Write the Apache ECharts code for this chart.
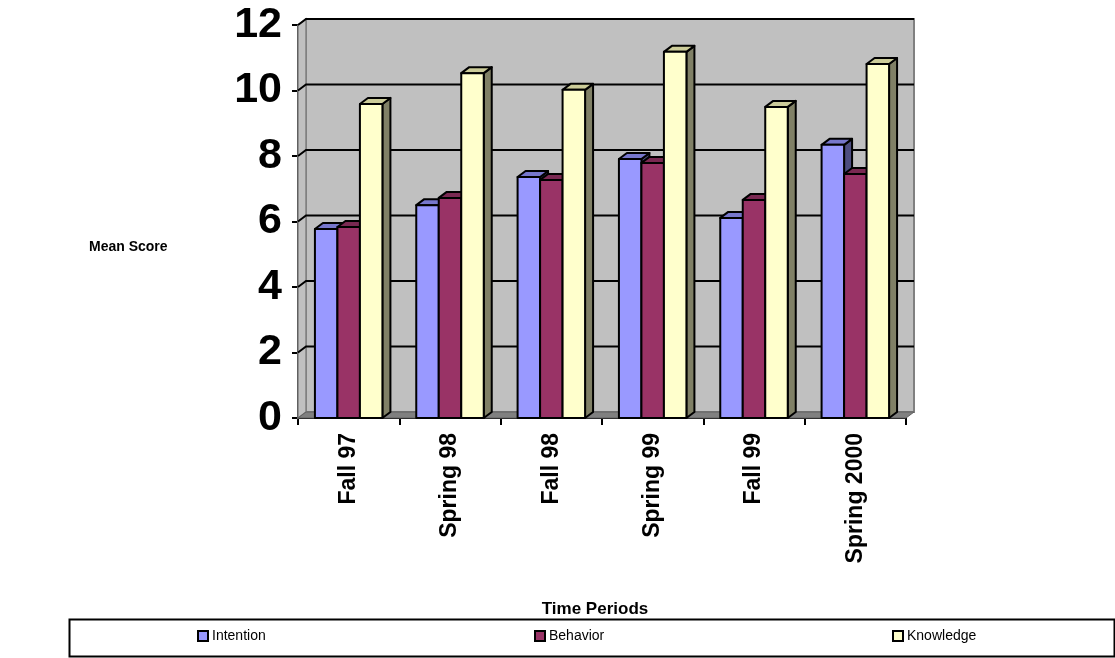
<!DOCTYPE html>
<html>
<head>
<meta charset="utf-8">
<script src="https://cdn.jsdelivr.net/npm/echarts@6/dist/echarts.min.js"></script>
<style>
  html, body { margin: 0; padding: 0; background: #fff; }
  #container { width: 1115px; height: 658px; }
</style>
</head>
<body>
<div id="container"></div>
<script>
(function () {
    // data
    let categories = ['Fall 97', 'Spring 98', 'Fall 98', 'Spring 99', 'Fall 99', 'Spring 2000'];
    let intention = [5.77, 6.50, 7.36, 7.91, 6.11, 8.34];
    let behavior = [5.83, 6.72, 7.27, 7.79, 6.66, 7.45];
    let knowledge = [9.59, 10.53, 10.02, 11.18, 9.50, 10.81];
    let yTicks = [0, 2, 4, 6, 8, 10, 12];

    let font = 'Arial, "Liberation Sans", sans-serif';
    let DX = 8, DY = -6; // depth offset of the 3d look

    let seriesList = [
        {name: 'Intention', data: intention, front: '#9999ff', top: '#7777cc', side: '#4d4d80'},
        {name: 'Behavior', data: behavior, front: '#993366', top: '#7a2952', side: '#4d1a33'},
        {name: 'Knowledge', data: knowledge, front: '#ffffcc', top: '#cccc99', side: '#808066'}
    ];

    let dom = document.getElementById('container');
    let myChart = echarts.init(dom);

    function renderWall(params, api) {
        let cs = params.coordSys;
        let x0 = cs.x, x1 = cs.x + cs.width;
        let yb = cs.y + cs.height, yt = cs.y;
        let children = [];
        // back wall
        children.push({
            type: 'rect',
            shape: {x: x0 + DX, y: yt + DY, width: cs.width, height: cs.height},
            style: {fill: '#c0c0c0', stroke: '#808080', lineWidth: 2}
        });
        // left side wall
        children.push({
            type: 'polygon',
            shape: {points: [[x0, yt], [x0 + DX, yt + DY], [x0 + DX, yb + DY], [x0, yb]]},
            style: {fill: '#c0c0c0', stroke: '#808080', lineWidth: 1.5}
        });
        // floor
        children.push({
            type: 'polygon',
            shape: {points: [[x0, yb], [x0 + DX, yb + DY], [x1 + DX, yb + DY], [x1, yb]]},
            style: {fill: '#808080', stroke: '#606060', lineWidth: 1}
        });
        // gridlines on the wall
        yTicks.forEach(function (v) {
            if (v === 0) return;
            let y = api.coord([0, v])[1];
            children.push({
                type: 'polyline',
                shape: {points: [[x0, y], [x0 + DX, y + DY], [x1 + DX, y + DY]]},
                style: {stroke: '#000', lineWidth: 2, fill: null}
            });
        });
        return {type: 'group', children: children};
    }

    function makeBarRender(k) {
        return function (params, api) {
            let ci = api.value(0);
            let val = api.value(1);
            let center = api.coord([ci, val]);
            let base = api.coord([ci, 0]);
            let catW = api.size([1, 0])[0];
            let bw = catW * 0.222;
            let left = center[0] - bw * 1.5 + k * bw;
            let right = left + bw;
            let top = center[1];
            let bottom = base[1];
            let s = seriesList[k];
            let line = {stroke: '#000', lineWidth: 2, lineJoin: 'round'};
            return {
                type: 'group',
                children: [
                    {
                        type: 'polygon',
                        shape: {points: [[right, top], [right + DX, top + DY], [right + DX, bottom + DY], [right, bottom]]},
                        style: Object.assign({fill: s.side}, line)
                    },
                    {
                        type: 'polygon',
                        shape: {points: [[left, top], [left + DX, top + DY], [right + DX, top + DY], [right, top]]},
                        style: Object.assign({fill: s.top}, line)
                    },
                    {
                        type: 'rect',
                        shape: {x: left, y: top, width: bw, height: bottom - top},
                        style: Object.assign({fill: s.front}, line)
                    }
                ]
            };
        };
    }

    let series = [{
        type: 'custom',
        name: 'wall',
        silent: true,
        renderItem: renderWall,
        data: [[0, 0]],
        z: 1
    }];
    seriesList.forEach(function (s, k) {
        series.push({
            type: 'custom',
            name: s.name,
            renderItem: makeBarRender(k),
            itemStyle: {color: s.front},
            encode: {x: 0, y: 1},
            data: s.data.map(function (v, i) { return [i, v]; }),
            z: 2
        });
    });

    let legendLeft = [197, 534, 892];
    let legends = seriesList.map(function (s, k) {
        return {
            left: legendLeft[k],
            top: 629,
            padding: 0,
            icon: 'rect',
            itemWidth: 10,
            itemHeight: 10,
            itemGap: 5,
            itemStyle: {borderColor: '#000', borderWidth: 2},
            textStyle: {fontFamily: font, fontSize: 14, color: '#000', padding: [0, 0, 0, -1]},
            data: [{name: s.name, itemStyle: {color: s.front}}]
        };
    });

    let option = {
        animation: false,
        backgroundColor: '#fff',
        grid: {left: 298, right: 209, top: 25, bottom: 240},
        title: [
            {text: 'Mean Score', left: 84, top: 235, textStyle: {fontFamily: font, fontSize: 14, fontWeight: 'bold', color: '#000'}},
            {text: 'Time Periods', left: 590, top: 596, textAlign: 'center', textStyle: {fontFamily: font, fontSize: 17, fontWeight: 'bold', color: '#000'}}
        ],
        legend: legends,
        graphic: [{
            type: 'rect',
            left: 67, top: 617,
            shape: {width: 1045, height: 37},
            style: {fill: 'none', stroke: '#000', lineWidth: 2},
            z: 0
        }],
        xAxis: {
            type: 'category',
            data: categories,
            boundaryGap: true,
            axisLine: {show: true, lineStyle: {color: '#000', width: 2}},
            axisTick: {show: true, inside: false, length: 7, alignWithLabel: false, lineStyle: {color: '#000', width: 2}},
            axisLabel: {rotate: 90, margin: 15, fontFamily: font, fontSize: 23, fontWeight: 'bold', color: '#000'},
            splitLine: {show: false}
        },
        yAxis: {
            type: 'value',
            min: 0,
            max: 12,
            interval: 2,
            axisLine: {show: true, lineStyle: {color: '#000', width: 2}},
            axisTick: {show: true, inside: false, length: 6, lineStyle: {color: '#000', width: 2}},
            axisLabel: {margin: 16, fontFamily: font, fontSize: 43, fontWeight: 'bold', color: '#000'},
            splitLine: {show: false}
        },
        series: series
    };
    myChart.setOption(option);
})();
</script>
</body>
</html>
